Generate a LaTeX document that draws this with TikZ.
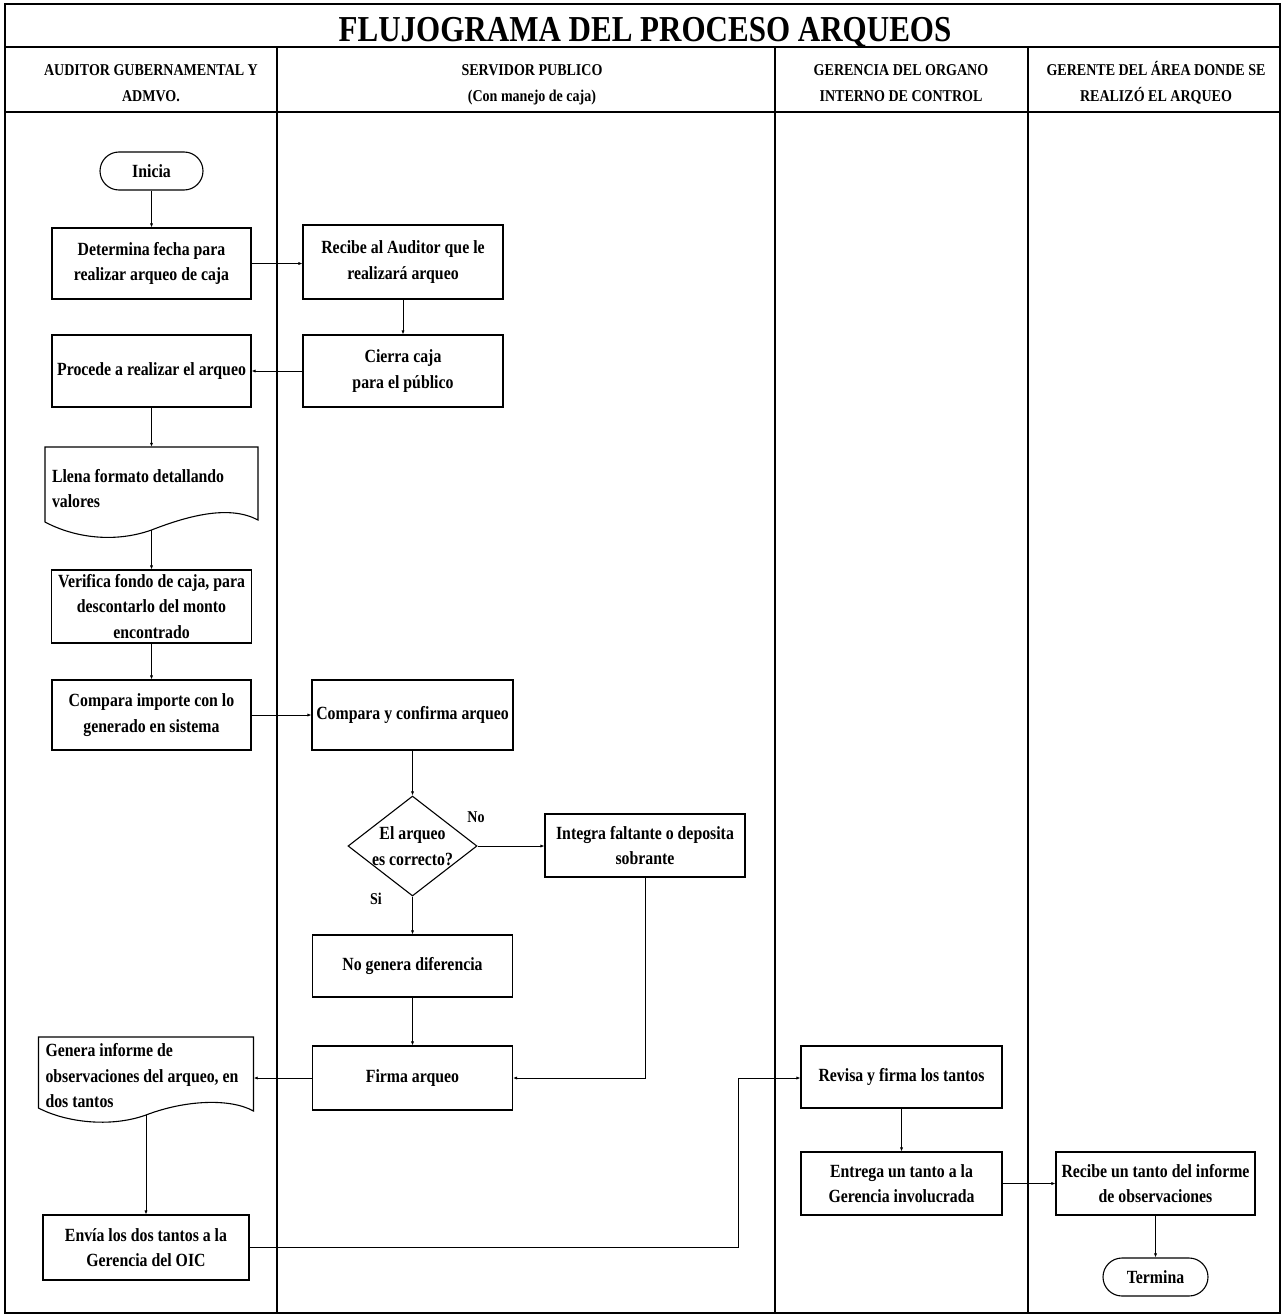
\documentclass[tikz,border=0pt]{standalone}
\usepackage{fontspec}
\setmainfont{Liberation Serif}[FakeStretch=0.85]
\usetikzlibrary{shapes.geometric,arrows.meta,calc}

\newcommand\flowtxt{\fontsize{18.6}{25.5}\selectfont\bfseries}
\newcommand\lanetxt{\fontsize{16.5}{26}\selectfont\bfseries}
\newcommand\titletxt{\fontsize{36.5}{40}\selectfont\bfseries}

\begin{document}
\begin{tikzpicture}[x=1pt,y=-1pt,
  lane/.style={line width=1.3pt},
  wh/.style 2 args={minimum width=#1,minimum height=#2},
  stepbox/.style={draw,line width=1.1pt,rectangle,inner sep=2pt,align=center,font=\flowtxt},
  term/.style={draw,line width=1.1pt,rectangle,rounded corners=19pt,wh={103pt}{38pt},font=\flowtxt},
  docnode/.style={rectangle,inner xsep=7pt,inner ysep=0pt,align=flush left,font=\flowtxt},
  docline/.style={line width=1.1pt},
  flow/.style={line width=1pt,-{Latex[length=4pt,width=3.2pt]}},
  lanehead/.style={align=center,font=\lanetxt},
  tag/.style={font=\lanetxt},
]
\useasboundingbox (0,0) rectangle (1282,1316);
\fill[white] (0,0) rectangle (1282,1316);

% swimlane frame
\draw[lane] (5,4) rectangle (1280,1313);
\draw[lane] (5,47) -- (1280,47);
\draw[lane] (5,112) -- (1280,112);
\foreach \x in {277,775,1028} \draw[lane] (\x,47) -- (\x,1313);

\node[font=\titletxt,anchor=base] (title) at (645,42) {FLUJOGRAMA DEL PROCESO ARQUEOS};
\node[lanehead] (laneA) at (151,83) {AUDITOR GUBERNAMENTAL Y\\ADMVO.};
\node[lanehead] (laneB) at (532,85) {SERVIDOR PUBLICO\\(Con manejo de caja)};
\node[lanehead] (laneC) at (901,83) {GERENCIA DEL ORGANO\\INTERNO DE CONTROL};
\node[lanehead] (laneD) at (1156,83) {GERENTE DEL ÁREA DONDE SE\\REALIZÓ EL ARQUEO};

% steps
\node[term] (inicia) at (151.5,171) {Inicia};
\node[stepbox,wh={199pt}{71pt}] (determina) at (151.5,263.5) {Determina fecha para\\realizar arqueo de caja};
\node[stepbox,wh={200pt}{74pt}] (recibe) at (403,262) {Recibe al Auditor que le\\realizará arqueo};
\node[stepbox,wh={199pt}{72pt}] (procede) at (151.5,371) {Procede a realizar el arqueo};
\node[stepbox,wh={200pt}{72pt}] (cierra) at (403,371) {Cierra caja\\para el público};

\node[docnode,text width=199pt,minimum height=83pt] (llena) at (151.5,488.5) {Llena formato detallando\\valores};
\draw[docline] (45,447) -- (258,447) -- (258,520)
  .. controls (230,505) and (190,515) .. (151.5,530)
  .. controls (115,543) and (75,538) .. (45,522) -- cycle;

\node[stepbox,wh={200pt}{73pt}] (verifica) at (151.5,606.5) {Verifica fondo de caja, para\\descontarlo del monto\\encontrado};
\node[stepbox,wh={199pt}{70pt}] (comparaI) at (151.5,715) {Compara importe con lo\\generado en sistema};
\node[stepbox,wh={201pt}{70pt}] (comparaC) at (412.5,715) {Compara y confirma arqueo};

\node[draw,line width=1.1pt,diamond,minimum width=129pt,minimum height=100pt,inner sep=0pt,
  label={[font=\flowtxt,align=center]center:{El arqueo\\es correcto?}}] (dec) at (412.5,846) {};
\node[stepbox,wh={200pt}{63pt}] (integra) at (645,845.5) {Integra faltante o deposita\\sobrante};
\node[stepbox,wh={200pt}{62pt}] (nogenera) at (412.5,966) {No genera diferencia};
\node[stepbox,wh={200pt}{64pt}] (firma) at (412.5,1078) {Firma arqueo};

\node[docnode,text width=201pt,minimum height=78pt] (genera) at (146,1076) {Genera informe de\\observaciones del arqueo, en\\dos tantos};
\draw[docline] (38.5,1037) -- (253.5,1037) -- (253.5,1111)
  .. controls (230,1098) and (185,1100) .. (146,1115)
  .. controls (110,1128) and (65,1122) .. (38.5,1108) -- cycle;

\node[stepbox,wh={206pt}{65pt}] (envia) at (146,1247.5) {Envía los dos tantos a la\\Gerencia del OIC};
\node[stepbox,wh={201pt}{62pt}] (revisa) at (901.5,1077) {Revisa y firma los tantos};
\node[stepbox,wh={201pt}{63pt}] (entrega) at (901.5,1183.5) {Entrega un tanto a la\\Gerencia involucrada};
\node[stepbox,wh={199pt}{63pt}] (recibeT) at (1155.5,1183.5) {Recibe un tanto del informe\\de observaciones};
\node[term,wh={105pt}{38pt}] (termina) at (1155.5,1277) {Termina};

\node[tag] (tagNo) at (476,817) {No};
\node[tag] (tagSi) at (376,899) {Si};

\coordinate (j1) at (738,1078);

% connectors
\draw[flow] (inicia) -- (determina);
\draw[flow] (determina.east) -- (determina.east -| recibe.west);
\draw[flow] (recibe) -- (cierra);
\draw[flow] (cierra.west) -- (cierra.west -| procede.east);
\draw[flow] (procede.south) -- (llena.north);
\draw[flow] (llena.south) -- (verifica.north);
\draw[flow] (verifica) -- (comparaI);
\draw[flow] (comparaI) -- (comparaC);
\draw[flow] (comparaC) -- (dec);
\draw[flow] (dec.east) -- (dec.east -| integra.west);
\draw[flow] (dec.south) -- (nogenera.north);
\draw[flow] (nogenera) -- (firma);
\draw[flow] (integra.south) |- (firma.east);
\draw[flow] (firma.west) -- (firma.west -| genera.east);
\draw[flow] (genera.south) -- (envia.north);
\draw[flow] (envia.east) -| (j1) -- (j1 -| revisa.west);
\draw[flow] (revisa) -- (entrega);
\draw[flow] (entrega) -- (recibeT);
\draw[flow] (recibeT) -- (termina);
\end{tikzpicture}
\end{document}
